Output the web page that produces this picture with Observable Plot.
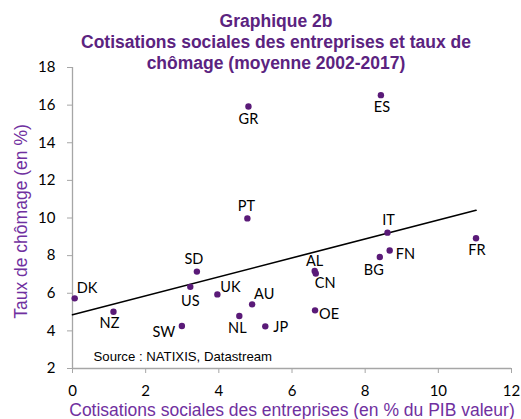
<!DOCTYPE html>
<html>
<head>
<meta charset="utf-8">
<script src="https://cdn.jsdelivr.net/npm/d3@7"></script>
<script src="https://cdn.jsdelivr.net/npm/@observablehq/plot@0.6"></script>
<style>
  html, body { margin: 0; padding: 0; background: #fff; }
  #chart svg { display: block; }
</style>
</head>
<body>
<div id="chart"></div>
<script>
// Data
const countries = ["DK","NZ","SW","US","SD","UK","NL","AU","JP","AL","CN","OE","BG","FN","IT","FR","PT","GR","ES"];
const cotisations = [0.06, 1.12, 2.99, 3.22, 3.40, 3.96, 4.56, 4.91, 5.27, 6.62, 6.65, 6.63, 8.40, 8.67, 8.61, 11.03, 4.78, 4.81, 8.43];
const chomage = [5.73, 5.02, 4.26, 6.34, 7.15, 5.94, 4.79, 5.41, 4.24, 7.18, 7.05, 5.09, 7.93, 8.27, 9.22, 8.92, 9.98, 15.93, 16.53];
const trendX = [0, 11.03];
const trendY = [4.86, 10.41];
const xTicks = [0, 2, 4, 6, 8, 10, 12];
const yTicks = [2, 4, 6, 8, 10, 12, 14, 16, 18];
const titleText = "Graphique 2b\nCotisations sociales des entreprises et taux de\nchômage (moyenne 2002-2017)";
const xLabel = "Cotisations sociales des entreprises (en % du PIB valeur)";
const yLabel = "Taux de chômage (en %)";
const sourceText = "Source : NATIXIS, Datastream";

// label placement (pixel offsets relative to each dot)
const labelOffsets = {
  DK: {dx: 2, dy: -10, anchor: "start"},
  NZ: {dx: -4, dy: 12, anchor: "middle"},
  SW: {dx: -18, dy: 6, anchor: "middle"},
  US: {dx: 0, dy: 15, anchor: "middle"},
  SD: {dx: -3, dy: -12, anchor: "middle"},
  UK: {dx: 3, dy: -7.5, anchor: "start"},
  NL: {dx: -2, dy: 12, anchor: "middle"},
  AU: {dx: 2, dy: -10, anchor: "start"},
  JP: {dx: 8, dy: 0.5, anchor: "start"},
  AL: {dx: 0, dy: -10, anchor: "middle"},
  CN: {dx: -1, dy: 10, anchor: "start"},
  OE: {dx: 4, dy: 3.5, anchor: "start"},
  BG: {dx: -6, dy: 13, anchor: "middle"},
  FN: {dx: 6, dy: 4, anchor: "start"},
  IT: {dx: 1, dy: -12, anchor: "middle"},
  FR: {dx: 1, dy: 12.5, anchor: "middle"},
  PT: {dx: -1, dy: -12, anchor: "middle"},
  GR: {dx: 0, dy: 13, anchor: "middle"},
  ES: {dx: 1, dy: 12.5, anchor: "middle"}
};

const points = countries.map((c, i) => ({country: c, x: cotisations[i], y: chomage[i]}));
const trend = trendX.map((x, i) => ({x, y: trendY[i]}));

const labelMarks = points.map(p => {
  const o = labelOffsets[p.country];
  return Plot.text([p], {
    x: "x", y: "y", text: "country",
    dx: o.dx, dy: o.dy, textAnchor: o.anchor,
    fill: "#000", fontSize: 14.5, fontFamily: "Lato, 'Open Sans', sans-serif"
  });
});

const purpleDark = "#5b2380";
const purpleAxis = "#7030a0";
const tickFont = "Lato, 'Open Sans', sans-serif";
const arial = "'Liberation Sans', Arial, sans-serif";

const chart = Plot.plot({
  width: 521,
  height: 419,
  marginLeft: 72,
  marginRight: 10,
  marginTop: 67,
  marginBottom: 51,
  style: {background: "#fff", overflow: "visible"},
  x: {domain: [0, 12]},
  y: {domain: [2, 18]},
  marks: [
    Plot.axisX({ticks: xTicks, tickSize: 5, tickPadding: 12, stroke: "#a6a6a6", fill: "#000", fontSize: 15, fontFamily: tickFont, label: null, tickFormat: d => String(d)}),
    Plot.axisY({ticks: yTicks, tickSize: 5, tickPadding: 12, stroke: "#a6a6a6", fill: "#000", fontSize: 15, fontFamily: tickFont, label: null, tickFormat: d => String(d)}),
    Plot.ruleX([0], {y1: 2, y2: 18, stroke: "#a6a6a6", strokeWidth: 1.3}),
    Plot.ruleY([2], {x1: 0, x2: 12, stroke: "#a6a6a6", strokeWidth: 1.3}),
    Plot.line(trend, {x: "x", y: "y", stroke: "#000", strokeWidth: 1.6}),
    Plot.dot(points, {x: "x", y: "y", r: 3.2, fill: "#5a1a78", stroke: null}),
    ...labelMarks,
    Plot.text([sourceText], {frameAnchor: "bottom-left", dx: 21, dy: -12, textAnchor: "start", lineAnchor: "middle", fill: "#000", fontSize: 13.2, fontFamily: arial}),
    Plot.text([xLabel], {frameAnchor: "bottom", dx: 0, dy: 47.5, textAnchor: "middle", lineAnchor: "bottom", fill: purpleAxis, fontSize: 17.5, fontFamily: arial}),
    Plot.text([yLabel], {frameAnchor: "left", dx: -51, dy: 3.5, textAnchor: "middle", lineAnchor: "middle", rotate: -90, fill: purpleAxis, fontSize: 17.5, fontFamily: arial}),
    Plot.text([titleText], {frameAnchor: "top", dx: -16, dy: 1, textAnchor: "middle", lineAnchor: "bottom", lineHeight: 1.18, fill: purpleDark, fontSize: 17.5, fontWeight: "bold", fontFamily: arial})
  ]
});

document.getElementById("chart").appendChild(chart);
</script>
</body>
</html>
